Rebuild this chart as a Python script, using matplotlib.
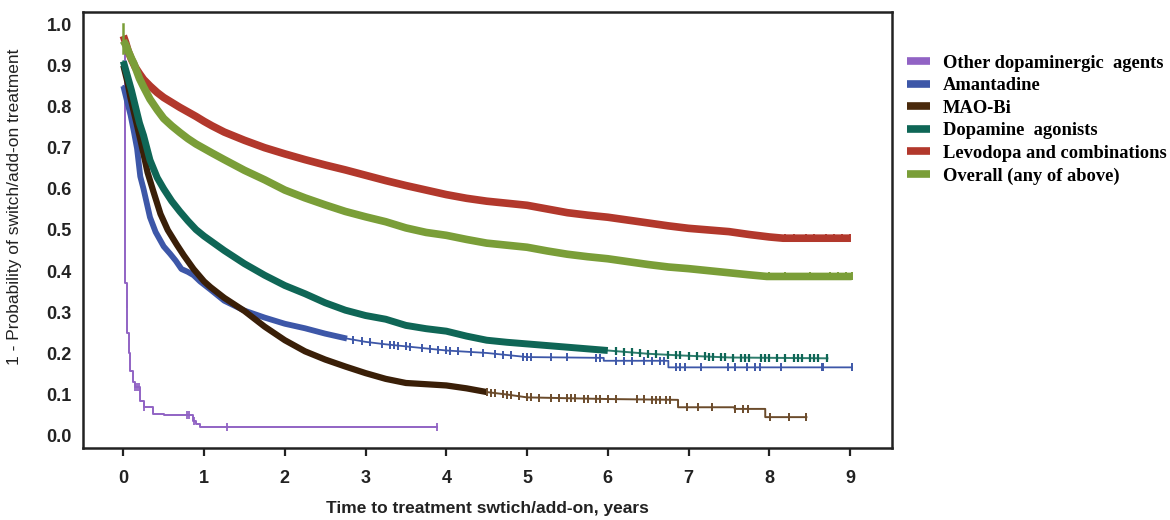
import numpy as np
import matplotlib
matplotlib.use("Agg")
import matplotlib.pyplot as plt
from matplotlib.lines import Line2D

# ---------------- data ----------------
labels = ["Other dopaminergic  agents", "Amantadine", "MAO-Bi", "Dopamine  agonists",
          "Levodopa and combinations", "Overall (any of above)"]

# Levodopa and combinations
levo_t = [0, 0.03, 0.06, 0.1, 0.15, 0.2, 0.25, 0.33, 0.42, 0.5, 0.6, 0.7, 0.8, 0.9, 1.0, 1.1,
          1.25, 1.5, 1.75, 2.0, 2.25, 2.5, 2.75, 3.0, 3.25, 3.5, 3.75, 4.0, 4.25, 4.5, 4.75, 5.0,
          5.25, 5.5, 5.75, 6.0, 6.25, 6.5, 6.75, 7.0, 7.25, 7.5, 7.75, 8.0, 8.17, 9.0]
levo_s = [0.972, 0.955, 0.935, 0.915, 0.895, 0.88, 0.866, 0.85, 0.834, 0.822, 0.81, 0.798, 0.787,
          0.776, 0.764, 0.753, 0.738, 0.718, 0.70, 0.685, 0.671, 0.658, 0.646, 0.633, 0.62, 0.608,
          0.597, 0.586, 0.577, 0.570, 0.565, 0.56, 0.551, 0.542, 0.536, 0.531, 0.524, 0.517,
          0.51, 0.504, 0.50, 0.496, 0.489, 0.483, 0.480, 0.480]

# Overall
over_t = [0, 0.03, 0.06, 0.1, 0.13, 0.2, 0.25, 0.33, 0.42, 0.5, 0.6, 0.7, 0.8, 0.9, 1.0, 1.1,
          1.25, 1.5, 1.75, 2.0, 2.25, 2.5, 2.75, 3.0, 3.25, 3.5, 3.75, 4.0, 4.25, 4.5, 4.75, 5.0,
          5.25, 5.5, 5.75, 6.0, 6.25, 6.5, 6.75, 7.0, 7.25, 7.5, 7.75, 7.97, 9.02]
over_s = [0.96, 0.95, 0.935, 0.917, 0.905, 0.868, 0.848, 0.818, 0.792, 0.771, 0.753, 0.737,
          0.722, 0.709, 0.698, 0.687, 0.671, 0.645, 0.622, 0.597, 0.578, 0.561, 0.545, 0.532,
          0.520, 0.505, 0.494, 0.487, 0.477, 0.468, 0.463, 0.458, 0.449, 0.441, 0.435, 0.430,
          0.423, 0.416, 0.41, 0.406, 0.401, 0.396, 0.391, 0.387, 0.387]

# Dopamine agonists
dopa_t = [0, 0.05, 0.1, 0.15, 0.2, 0.25, 0.33, 0.42, 0.5, 0.6, 0.7, 0.8, 0.9, 1.0, 1.1, 1.25,
          1.5, 1.75, 2.0, 2.25, 2.5, 2.75, 3.0, 3.25, 3.5, 3.75, 4.0, 4.25, 4.5, 4.75, 5.0, 5.5,
          6.0, 6.5, 6.9, 7.5, 8.72]
dopa_s = [0.91, 0.875, 0.84, 0.80, 0.76, 0.73, 0.67, 0.627, 0.60, 0.57, 0.545, 0.522, 0.501,
          0.485, 0.471, 0.45, 0.418, 0.39, 0.365, 0.345, 0.323, 0.305, 0.292, 0.283, 0.268, 0.26,
          0.254, 0.242, 0.232, 0.227, 0.223, 0.215, 0.207, 0.199, 0.195, 0.19, 0.188]
dopa_cens = [6.1, 6.2, 6.3, 6.4, 6.5, 6.6, 6.75, 6.85, 6.9, 7.0, 7.1, 7.2, 7.25, 7.3, 7.4, 7.45,
             7.55, 7.65, 7.7, 7.75, 7.9, 7.95, 8.0, 8.1, 8.2, 8.3, 8.35, 8.4, 8.5, 8.55, 8.6, 8.72]

# Amantadine
aman_t = [0, 0.05, 0.09, 0.13, 0.17, 0.21, 0.25, 0.33, 0.4, 0.5, 0.58, 0.65, 0.72, 0.8, 0.87,
          0.95, 1.08, 1.25, 1.5, 1.75, 2.0, 2.25, 2.5, 2.77, 3.0, 3.25, 3.5, 4.0, 4.5, 5.0, 5.5,
          5.95, 5.95, 6.75, 6.75, 9.02]
aman_s = [0.85, 0.81, 0.779, 0.74, 0.698, 0.63, 0.60, 0.531, 0.495, 0.46, 0.442, 0.425, 0.405,
          0.398, 0.39, 0.375, 0.355, 0.328, 0.304, 0.287, 0.272, 0.261, 0.248, 0.236, 0.228,
          0.222, 0.217, 0.207, 0.201, 0.191, 0.19, 0.189, 0.182, 0.182, 0.166, 0.166]
aman_cens = [2.85, 2.95, 3.05, 3.2, 3.3, 3.35, 3.4, 3.5, 3.55, 3.7, 3.8, 3.9, 4.0, 4.05, 4.15,
             4.3, 4.45, 4.6, 4.7, 4.8, 4.95, 5.0, 5.05, 5.3, 5.5, 5.85, 5.9, 6.1, 6.2, 6.3, 6.45,
             6.55, 6.65, 6.7, 6.85, 6.89, 6.96, 7.16, 7.49, 7.57, 7.72, 7.82, 7.88, 8.15, 8.65,
             8.67, 9.02]

# MAO-Bi
mao_t = [0, 0.05, 0.09, 0.13, 0.17, 0.21, 0.25, 0.3, 0.37, 0.46, 0.55, 0.66, 0.75, 0.87, 1.0,
         1.08, 1.25, 1.5, 1.75, 2.0, 2.25, 2.5, 2.75, 3.0, 3.25, 3.5, 3.75, 4.0, 4.25, 4.5, 4.75,
         5.0, 5.5, 6.0, 6.87, 6.87, 7.57, 7.57, 7.95, 7.95, 8.46]
mao_s = [0.90, 0.86, 0.82, 0.787, 0.754, 0.72, 0.685, 0.64, 0.595, 0.539, 0.50, 0.465, 0.438,
         0.405, 0.375, 0.361, 0.335, 0.303, 0.265, 0.232, 0.205, 0.185, 0.168, 0.152, 0.138,
         0.128, 0.125, 0.122, 0.115, 0.106, 0.10, 0.093, 0.091, 0.089, 0.087, 0.069, 0.069,
         0.065, 0.065, 0.045, 0.045]
mao_cens = [4.5, 4.55, 4.6, 4.7, 4.75, 4.8, 4.9, 5.0, 5.05, 5.15, 5.3, 5.4, 5.5, 5.55, 5.6, 5.7,
            5.75, 5.85, 5.9, 6.0, 6.1, 6.36, 6.45, 6.55, 6.6, 6.65, 6.72, 6.77, 6.98, 7.12, 7.29,
            7.57, 7.68, 7.74, 8.01, 8.25, 8.46]

# Other dopaminergic agents
oth_t = [0, 0.025, 0.04, 0.05, 0.07, 0.08, 0.12, 0.15, 0.21, 0.25, 0.37, 0.5, 0.86, 0.9, 0.95, 3.88]
oth_s = [0.95, 0.37, 0.32, 0.25, 0.20, 0.158, 0.13, 0.118, 0.085, 0.069, 0.053, 0.049, 0.035,
         0.028, 0.022, 0.022]
oth_cens = [0.045, 0.15, 0.17, 0.2, 0.25, 0.79, 0.81, 0.87, 1.28, 3.88]

levo_cens = [8.2, 8.3, 8.45, 8.55, 8.7, 8.8, 8.9, 9.0]
over_cens = [8.0, 8.2, 8.5, 8.75, 8.85, 8.95, 9.02]

x_ticks = [0, 1, 2, 3, 4, 5, 6, 7, 8, 9]
y_ticks = [0.0, 0.1, 0.2, 0.3, 0.4, 0.5, 0.6, 0.7, 0.8, 0.9, 1.0]

# ---------------- styles ----------------
c_oth = "#9163c4"
c_aman = "#3d57a8"
c_mao = "#3a1f08"
c_mao_tail = "#6b4b2b"
c_dopa = "#0f6656"
c_dopa_tail = "#2d7d6c"
c_levo = "#b2382c"
c_over = "#7a9e38"

fig = plt.figure(figsize=(11.7, 5.2), dpi=100)
ax = fig.add_axes([0.0709, 0.1385, 0.6915, 0.8385])


def stepval(t, s, tc):
    return np.interp(tc, t, s)


def km_val(t, s, tc):
    t = np.asarray(t, float)
    s = np.asarray(s, float)
    idx = np.searchsorted(t, np.asarray(tc, float), side="right") - 1
    return s[np.clip(idx, 0, len(s) - 1)]


def thick_part(t, s, tmax):
    t = np.asarray(t, float)
    s = np.asarray(s, float)
    m = t <= tmax
    return t[m], s[m]


# purple (steps)
ax.step(oth_t, oth_s, where="post", color=c_oth, lw=1.4, zorder=3)
ax.plot(oth_cens, km_val(oth_t, oth_s, oth_cens),
        ls="none", marker="|", ms=6, mew=1.3, color=c_oth, zorder=3)

# amantadine
ax.plot(aman_t, aman_s, color=c_aman, lw=1.3, zorder=4)
tt, ss = thick_part(aman_t, aman_s, 2.8)
ax.plot(tt, ss, color=c_aman, lw=4.2, zorder=4, solid_capstyle="butt")
ax.plot(aman_cens, stepval(aman_t, aman_s, aman_cens), ls="none", marker="|", ms=6, mew=1.4,
        color=c_aman, zorder=4)

# MAO-Bi
ax.plot(mao_t, mao_s, color=c_mao_tail, lw=1.4, zorder=5)
tt, ss = thick_part(mao_t, mao_s, 4.5)
ax.plot(tt, ss, color=c_mao, lw=4.5, zorder=5, solid_capstyle="butt")
ax.plot(mao_cens, stepval(mao_t, mao_s, mao_cens), ls="none", marker="|", ms=6, mew=1.4,
        color=c_mao_tail, zorder=5)

# Dopamine agonists
ax.plot(dopa_t, dopa_s, color=c_dopa_tail, lw=1.4, zorder=6)
tt, ss = thick_part(dopa_t, dopa_s, 6.1)
ax.plot(tt, ss, color=c_dopa, lw=5.0, zorder=6, solid_capstyle="butt")
ax.plot(dopa_cens, stepval(dopa_t, dopa_s, dopa_cens), ls="none", marker="|", ms=6, mew=1.6,
        color=c_dopa, zorder=6)

# Levodopa
ax.plot(levo_t, levo_s, color=c_levo, lw=5.5, zorder=7, solid_capstyle="butt")
ax.plot(levo_cens, stepval(levo_t, levo_s, levo_cens), ls="none", marker="|", ms=6, mew=1.4,
        color=c_levo, zorder=7)

# Overall
ax.plot(over_t, over_s, color=c_over, lw=5.5, zorder=8, solid_capstyle="butt")
ax.plot(over_cens, stepval(over_t, over_s, over_cens), ls="none", marker="|", ms=6, mew=1.4,
        color=c_over, zorder=8)
ax.plot([0, 0], [0.93, 1.0], color=c_over, lw=1.8, zorder=8)

ax.set_xlim(-0.5, 9.52)
ax.set_ylim(-0.03, 1.03)
ax.set_xticks(x_ticks)
ax.set_yticks(y_ticks)
ax.set_xticklabels([str(v) for v in x_ticks])
ax.set_yticklabels([f"{v:.1f}" for v in y_ticks])

for sp in ax.spines.values():
    sp.set_linewidth(1.8)
    sp.set_color("#222222")

ax.tick_params(axis="x", direction="out", length=6, width=1.6, pad=10, colors="#222222",
               labelsize=13)
ax.tick_params(axis="y", length=0, pad=8, labelsize=13, colors="#222222")
for lab in ax.get_xticklabels() + ax.get_yticklabels():
    lab.set_fontweight("bold")
    lab.set_family("Liberation Sans")

ax.set_xlabel("Time to treatment swtich/add-on, years", fontsize=12.5, family="Liberation Sans",
              fontweight="bold", labelpad=10, color="#222222")
fig.text(15 / 1170, 1 - 207 / 520, "1 - Probability of switch/add-on treatment", rotation=90,
         ha="center", va="center", fontsize=12.5, family="Liberation Sans", color="#222222")

handles = [Line2D([], [], color=c, lw=5.5, solid_capstyle="butt")
           for c in [c_oth, c_aman, "#4a2a0c", c_dopa, c_levo, c_over]]
leg = fig.legend(handles, labels, loc="upper left", bbox_to_anchor=(0.775, 0.895),
                 frameon=False, handlelength=1.28, handletextpad=0.68, labelspacing=0.3,
                 borderaxespad=0, borderpad=0,
                 prop={"family": "Liberation Serif", "weight": "bold", "size": 13.3})

fig.savefig("out.png", dpi=100)
